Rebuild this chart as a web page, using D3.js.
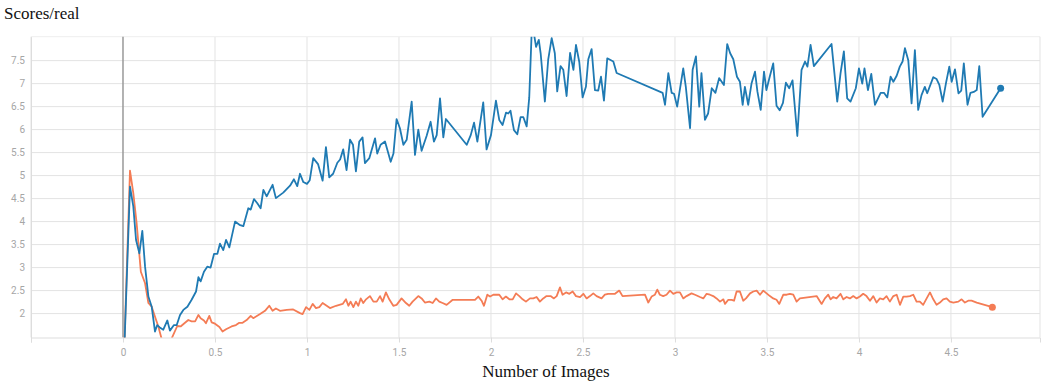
<!DOCTYPE html>
<html>
<head>
<meta charset="utf-8">
<title>Scores/real</title>
<script src="https://d3js.org/d3.v7.min.js"></script>
<style>
  body { margin: 0; background: #fff; }
  .tick text { font-family: Roboto, "Open Sans", sans-serif; font-size: 10px; fill: #a6a6a6; }
</style>
</head>
<body>
<div id="container"></div>
<script>
//-----------------------------DATA------------------------------//
// blue run
const blueSteps = [0.000,0.038,0.056,0.071,0.089,0.105,0.120,0.138,0.156,0.174,0.186,0.200,0.219,0.241,0.255,0.277,0.292,0.310,0.328,0.350,
  0.373,0.397,0.410,0.422,0.440,0.458,0.476,0.495,0.513,0.527,0.545,0.560,0.578,0.609,0.633,0.654,0.681,0.694,0.712,0.730,
  0.748,0.763,0.781,0.799,0.813,0.831,0.871,0.908,0.929,0.947,0.962,0.980,1.000,1.015,1.034,1.060,1.085,1.103,1.121,1.142,
  1.165,1.180,1.197,1.215,1.234,1.250,1.266,1.284,1.302,1.315,1.339,1.370,1.382,1.400,1.424,1.455,1.470,1.487,1.505,1.524,
  1.542,1.569,1.587,1.605,1.623,1.650,1.672,1.690,1.705,1.723,1.741,1.755,1.868,1.890,1.908,1.926,1.958,1.976,2.000,2.027,
  2.045,2.063,2.082,2.094,2.106,2.125,2.143,2.161,2.176,2.194,2.208,2.221,2.235,2.245,2.260,2.270,2.293,2.311,2.330,2.347,
  2.360,2.378,2.393,2.411,2.430,2.448,2.462,2.480,2.498,2.516,2.529,2.547,2.565,2.583,2.598,2.614,2.632,2.665,2.683,2.933,
  2.946,2.964,2.982,2.995,3.012,3.045,3.059,3.082,3.096,3.114,3.132,3.144,3.163,3.180,3.200,3.220,3.240,3.266,3.284,3.300,
  3.317,3.337,3.353,3.368,3.380,3.398,3.416,3.435,3.448,3.466,3.484,3.497,3.515,3.534,3.552,3.569,3.587,3.603,3.621,3.639,
  3.665,3.688,3.707,3.720,3.737,3.755,3.851,3.882,3.900,3.918,3.936,3.954,3.983,4.000,4.018,4.030,4.049,4.067,4.087,4.118,
  4.136,4.154,4.172,4.187,4.205,4.222,4.237,4.250,4.268,4.286,4.304,4.322,4.340,4.358,4.371,4.404,4.422,4.437,4.455,4.473,
  4.491,4.504,4.522,4.541,4.556,4.570,4.590,4.606,4.624,4.640,4.654,4.672,4.770];
const blueValues = [0.40,4.76,4.33,3.60,3.31,3.80,3.02,2.37,2.15,1.61,1.75,1.70,1.65,1.85,1.63,1.75,1.75,1.97,2.08,2.15,
  2.30,2.48,2.79,2.70,2.91,3.02,3.00,3.30,3.30,3.52,3.38,3.60,3.44,4.00,3.93,3.90,4.29,4.26,4.49,4.40,
  4.29,4.69,4.55,4.69,4.80,4.51,4.63,4.78,4.92,4.77,5.04,4.86,4.82,4.90,5.38,5.25,4.89,5.62,4.96,5.04,
  5.28,5.35,5.57,5.12,5.78,5.67,5.09,5.74,5.83,5.27,5.38,5.81,5.48,5.67,5.74,5.30,5.48,6.23,6.03,5.67,
  5.78,6.61,5.45,6.00,5.54,5.86,6.17,5.74,5.88,6.68,5.83,6.23,5.67,5.88,6.15,5.74,6.59,5.57,5.88,6.63,
  6.21,6.10,6.37,6.35,6.41,5.99,5.90,6.27,6.27,6.07,6.70,8.10,8.05,7.80,7.95,7.66,6.61,7.52,7.99,7.66,
  6.83,7.38,7.30,6.73,7.67,7.30,7.84,7.47,6.70,6.93,7.53,7.75,6.86,6.85,7.15,6.63,7.55,7.48,7.23,6.80,
  6.54,7.23,6.80,6.78,6.50,7.33,6.93,6.03,7.30,7.59,6.50,7.23,6.21,6.35,6.90,6.80,7.12,6.97,7.86,7.66,
  7.53,7.15,7.04,6.54,6.93,6.54,7.00,7.26,6.83,6.43,7.26,6.86,7.15,7.44,6.52,6.42,6.58,7.02,6.90,7.07,
  5.86,7.30,7.48,7.37,7.84,7.38,7.86,6.61,7.23,7.70,6.68,6.61,6.90,7.33,7.00,7.33,6.86,7.21,6.54,6.80,
  6.80,6.70,7.15,7.04,7.17,7.37,7.48,7.77,7.51,6.57,7.73,6.43,6.75,6.93,6.79,7.14,7.10,6.97,6.61,7.01,
  7.37,7.04,7.31,6.79,6.85,7.44,6.54,6.80,6.82,6.86,7.38,6.28,6.90];

// orange run
const orangeSteps = [0.000,0.038,0.056,0.074,0.097,0.120,0.138,0.156,0.174,0.192,0.210,0.230,0.260,0.295,0.313,0.337,0.355,0.373,0.392,0.410,
  0.422,0.440,0.451,0.469,0.482,0.500,0.524,0.541,0.560,0.590,0.614,0.632,0.650,0.672,0.694,0.708,0.745,0.772,0.795,0.813,
  0.831,0.853,0.890,0.925,0.962,0.976,0.995,1.013,1.031,1.049,1.067,1.085,1.107,1.125,1.158,1.194,1.212,1.225,1.237,1.252,
  1.266,1.279,1.292,1.306,1.321,1.342,1.361,1.379,1.397,1.411,1.429,1.447,1.469,1.487,1.514,1.538,1.556,1.574,1.605,1.623,
  1.641,1.665,1.683,1.701,1.719,1.737,1.759,1.792,1.913,1.931,1.949,1.962,1.980,1.995,2.013,2.045,2.063,2.081,2.100,2.118,
  2.136,2.154,2.172,2.190,2.212,2.230,2.248,2.266,2.284,2.302,2.324,2.342,2.357,2.375,2.389,2.408,2.426,2.444,2.462,2.484,
  2.502,2.520,2.538,2.556,2.574,2.601,2.619,2.637,2.674,2.697,2.715,2.837,2.855,2.873,2.891,2.904,2.918,2.936,2.954,2.973,
  2.991,3.009,3.027,3.045,3.063,3.090,3.109,3.136,3.154,3.172,3.190,3.208,3.226,3.245,3.263,3.272,3.290,3.308,3.321,3.335,
  3.353,3.371,3.386,3.408,3.426,3.444,3.462,3.480,3.498,3.516,3.534,3.552,3.567,3.589,3.607,3.625,3.643,3.661,3.679,3.770,
  3.797,3.815,3.833,3.846,3.860,3.878,3.900,3.915,3.933,3.951,3.969,3.987,4.005,4.023,4.041,4.060,4.078,4.096,4.114,4.132,
  4.150,4.168,4.187,4.205,4.223,4.241,4.259,4.277,4.295,4.313,4.331,4.349,4.368,4.386,4.404,4.422,4.440,4.458,4.476,4.494,
  4.513,4.540,4.558,4.576,4.594,4.612,4.640,4.725];
const orangeValues = [0.40,5.11,4.62,3.97,2.91,2.66,2.23,2.15,1.93,1.72,1.45,1.40,1.42,1.73,1.72,1.80,1.86,1.83,1.83,1.97,
  1.90,1.85,1.79,1.95,1.81,1.78,1.71,1.61,1.66,1.72,1.75,1.80,1.80,1.86,1.95,1.90,1.99,2.06,2.17,2.06,
  2.11,2.06,2.08,2.09,2.01,1.99,2.14,2.08,2.21,2.12,2.14,2.23,2.17,2.12,2.17,2.21,2.31,2.17,2.26,2.14,
  2.26,2.17,2.33,2.23,2.31,2.38,2.26,2.26,2.38,2.26,2.46,2.31,2.17,2.19,2.33,2.23,2.17,2.26,2.38,2.33,
  2.24,2.26,2.23,2.33,2.26,2.23,2.19,2.30,2.30,2.37,2.28,2.17,2.41,2.37,2.41,2.41,2.31,2.37,2.31,2.31,
  2.44,2.38,2.31,2.26,2.33,2.33,2.36,2.26,2.33,2.38,2.38,2.33,2.38,2.57,2.41,2.46,2.43,2.48,2.38,2.36,
  2.43,2.33,2.38,2.44,2.38,2.33,2.41,2.43,2.43,2.50,2.38,2.41,2.24,2.37,2.41,2.52,2.41,2.38,2.41,2.50,
  2.43,2.46,2.46,2.33,2.38,2.44,2.41,2.36,2.33,2.43,2.41,2.38,2.33,2.26,2.31,2.21,2.30,2.30,2.28,2.48,
  2.48,2.28,2.33,2.44,2.48,2.50,2.41,2.50,2.44,2.38,2.33,2.30,2.21,2.41,2.41,2.43,2.41,2.26,2.33,2.38,
  2.21,2.33,2.41,2.31,2.36,2.33,2.43,2.31,2.36,2.33,2.38,2.33,2.37,2.43,2.38,2.28,2.38,2.24,2.33,2.31,
  2.38,2.26,2.38,2.41,2.19,2.37,2.37,2.38,2.41,2.26,2.26,2.19,2.33,2.46,2.31,2.19,2.24,2.31,2.33,2.26,
  2.24,2.26,2.31,2.24,2.28,2.28,2.24,2.14];

const xTicks = [-0.5,0,0.5,1,1.5,2,2.5,3,3.5,4,4.5];
const yTicks = [2,2.5,3,3.5,4,4.5,5,5.5,6,6.5,7,7.5];

//-----------------------------SVG-------------------------------//
const width = 1057;
const height = 383;
const plotLeft = 31, plotRight = 1040, plotTop = 36.7, plotBottom = 337.5;

const svg = d3.select("#container").append("svg")
    .attr("width", width)
    .attr("height", height);

const xScale = d3.scaleLinear().domain([-0.5, 4.984]).range([plotLeft, plotRight]);
const yScale = d3.scaleLinear().domain([1.48, 8.02]).range([plotBottom, plotTop]);

//-----------------------------GRID------------------------------//
svg.append("g")
    .selectAll("line")
    .data(yTicks)
    .join("line")
    .attr("x1", plotLeft).attr("x2", plotRight)
    .attr("y1", d => yScale(d)).attr("y2", d => yScale(d))
    .attr("stroke", "#e3e3e3");

svg.append("g")
    .selectAll("line")
    .data(xTicks.filter(d => d !== 0))
    .join("line")
    .attr("x1", d => xScale(d)).attr("x2", d => xScale(d))
    .attr("y1", plotTop).attr("y2", plotBottom)
    .attr("stroke", "#e3e3e3");

// frame top / right
svg.append("line").attr("x1", plotLeft).attr("x2", plotRight).attr("y1", plotTop).attr("y2", plotTop).attr("stroke", "#eee");
svg.append("line").attr("x1", plotRight).attr("x2", plotRight).attr("y1", plotTop).attr("y2", plotBottom).attr("stroke", "#e3e3e3");

// darker line at zero
svg.append("line")
    .attr("x1", xScale(0)).attr("x2", xScale(0))
    .attr("y1", plotTop).attr("y2", plotBottom)
    .attr("stroke", "#999").attr("stroke-width", 1.5);

//-----------------------------AXES------------------------------//
const xaxis = d3.axisBottom(xScale)
    .tickValues(xTicks)
    .tickSize(5)
    .tickPadding(6)
    .tickFormat(d => d === -0.5 ? "" : String(d));

const gx = svg.append("g")
    .attr("transform", "translate(0," + plotBottom + ")")
    .call(xaxis);
gx.select(".domain").attr("stroke", "#ddd");
gx.selectAll(".tick line").attr("stroke", "#ddd");

const yaxis = d3.axisLeft(yScale)
    .tickValues(yTicks)
    .tickSize(0)
    .tickPadding(6)
    .tickFormat(d => String(d));

const gy = svg.append("g")
    .attr("transform", "translate(" + plotLeft + ",0)")
    .call(yaxis);
gy.select(".domain").attr("stroke", "#ddd");

//----------------------------LINES------------------------------//
svg.append("clipPath").attr("id", "plot")
  .append("rect")
    .attr("x", plotLeft).attr("y", plotTop)
    .attr("width", plotRight - plotLeft).attr("height", plotBottom - plotTop);

const line = d3.line()
    .x(d => xScale(d[0]))
    .y(d => yScale(d[1]));

const series = [
  { color: "#f47c55", pts: d3.zip(orangeSteps, orangeValues) },
  { color: "#1f7ab3", pts: d3.zip(blueSteps, blueValues) }
];

const lines = svg.selectAll(".run")
    .data(series)
    .join("g")
    .attr("class", "run");

lines.append("path")
    .attr("clip-path", "url(#plot)")
    .attr("d", d => line(d.pts))
    .attr("fill", "none")
    .attr("stroke", d => d.color)
    .attr("stroke-width", 1.8)
    .attr("stroke-linejoin", "round");

lines.append("circle")
    .attr("cx", d => xScale(d.pts[d.pts.length - 1][0]))
    .attr("cy", d => yScale(d.pts[d.pts.length - 1][1]))
    .attr("r", 3.5)
    .attr("fill", d => d.color);

//----------------------------TEXT-------------------------------//
svg.append("text")
    .attr("x", 4).attr("y", 19)
    .style("font-family", "'Liberation Serif', 'Times New Roman', serif")
    .style("font-size", "17px")
    .attr("fill", "#111")
    .text("Scores/real");

svg.append("text")
    .attr("x", 546).attr("y", 377)
    .attr("text-anchor", "middle")
    .style("font-family", "'Liberation Serif', 'Times New Roman', serif")
    .style("font-size", "17px")
    .attr("fill", "#111")
    .text("Number of Images");
</script>
</body>
</html>
